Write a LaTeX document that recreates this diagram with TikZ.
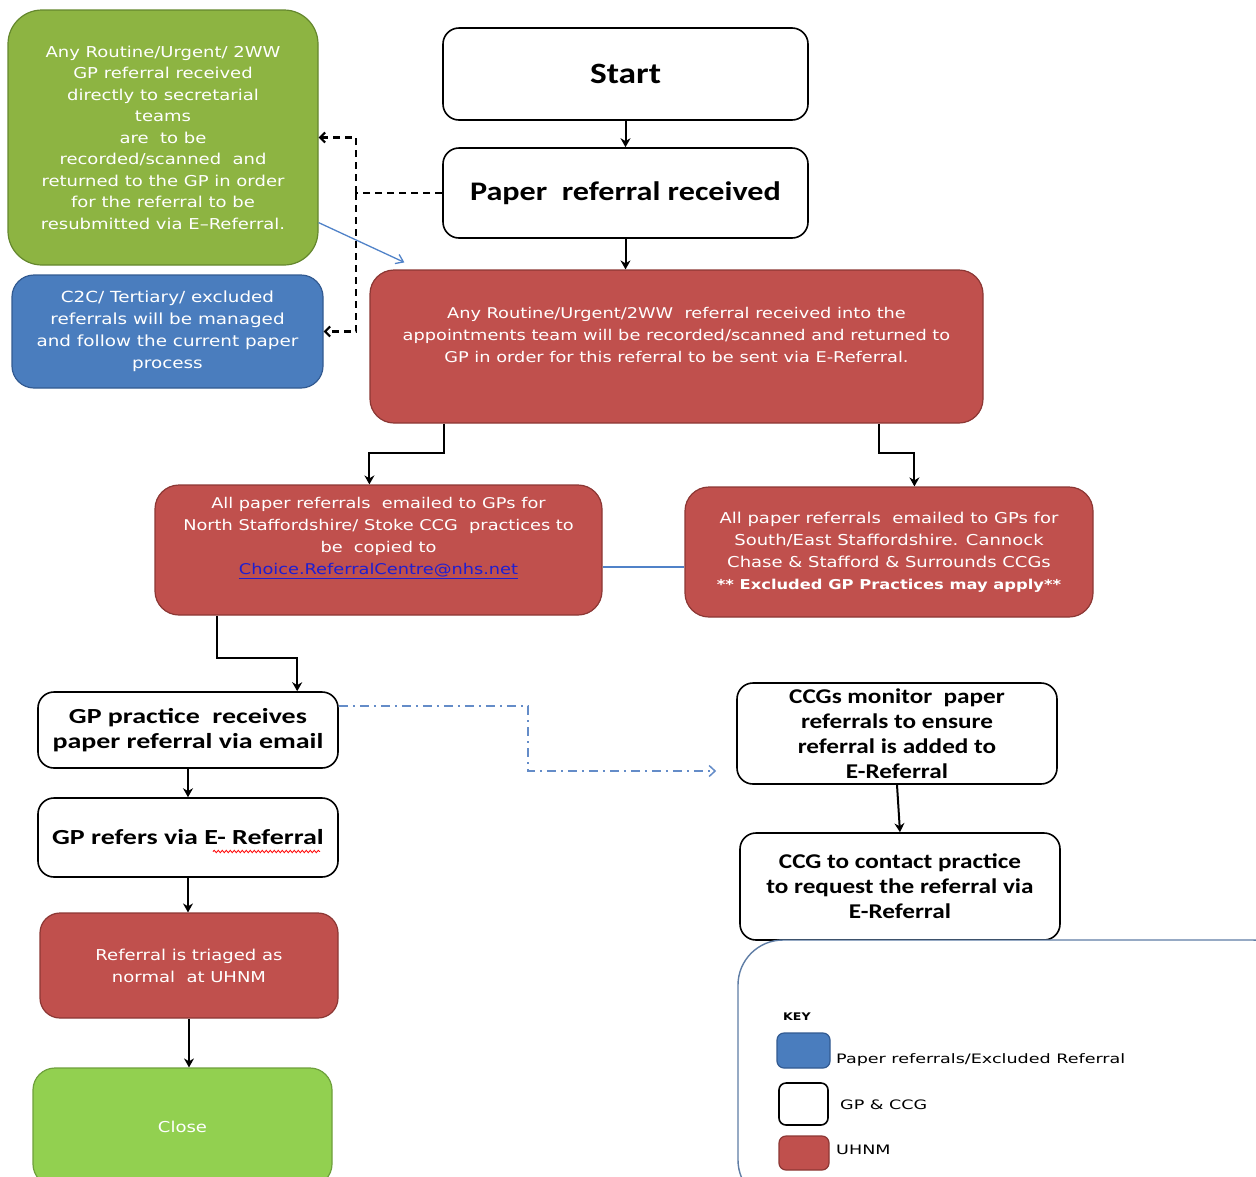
\documentclass[tikz,border=0pt]{standalone}
\usepackage{fontspec}
\setmainfont[FakeStretch=1.2]{DejaVu Sans}
\newfontfamily\widefont[FakeStretch=1.35]{DejaVu Sans}
\newfontfamily\cb[FakeStretch=1.2]{Carlito}
\newfontfamily\cbw[FakeStretch=1.3]{Carlito}
\usetikzlibrary{arrows.meta,calc,decorations.pathmorphing}
\definecolor{gfill}{RGB}{141,180,66}
\definecolor{gedge}{RGB}{100,135,45}
\definecolor{bfill}{RGB}{74,125,190}
\definecolor{bedge}{RGB}{50,90,145}
\definecolor{rfill}{RGB}{192,80,77}
\definecolor{redge}{RGB}{140,55,52}
\definecolor{cfill}{RGB}{146,208,80}
\definecolor{cedge}{RGB}{110,160,60}
\definecolor{linkblue}{RGB}{30,30,210}
\definecolor{thinblue}{RGB}{80,130,200}
\definecolor{keyedge}{RGB}{95,125,165}
\definecolor{ddblue}{RGB}{100,140,200}
\begin{document}
\begin{tikzpicture}[x=1pt,y=-1pt,
  every node/.style={inner sep=0pt, align=center},
  wbox/.style={draw=black, line width=1.6pt, fill=white, rounded corners=16pt,
    font=\cb\bfseries\fontsize{21}{25}\selectfont},
  wboxl/.style={wbox, font=\cbw\bfseries\fontsize{21.5}{25}\selectfont},
  rbox/.style={draw=redge, line width=1.2pt, fill=rfill, rounded corners=24pt,
    text=white, font=\fontsize{15}{22}\selectfont},
  gbox/.style={draw=gedge, line width=1.2pt, fill=gfill, rounded corners=34pt,
    text=white, font=\fontsize{15}{21.5}\selectfont},
  bbox/.style={draw=bedge, line width=1.2pt, fill=bfill, rounded corners=22pt,
    text=white, font=\fontsize{15.3}{22}\selectfont},
  cbox/.style={draw=cedge, line width=1.2pt, fill=cfill, rounded corners=22pt,
    text=white, font=\fontsize{15}{22}\selectfont},
  wtext/.style={text=white, font=\fontsize{14.8}{22}\selectfont},
  keybox/.style={draw=keyedge, line width=1.4pt, fill=white, rounded corners=45pt},
  swatch/.style={rounded corners=7pt, line width=1.2pt},
  ktext/.style={anchor=west, font=\widefont\fontsize{13}{14}\selectfont},
  arr/.style={draw=black, line width=2pt, -{Stealth[length=9pt,width=10pt]}},
  dashline/.style={draw=black, line width=2.2pt, dash pattern=on 7pt off 5pt},
  dasharr/.style={dashline, -{Straight Barb[length=5pt,width=10pt]}},
  thinarr/.style={draw=thinblue, line width=1.3pt, -{Straight Barb[length=7pt,width=10pt]}},
  ddarr/.style={draw=ddblue, line width=1.5pt, dash pattern=on 9pt off 5pt on 2pt off 5pt,
    -{Straight Barb[length=6pt,width=11pt]}}
]
\useasboundingbox (0,0) rectangle (1256,1176);
\clip (0,0) rectangle (1256,1176);

% left side boxes
\node[gbox, minimum width=310pt, minimum height=255pt] (g1) at (163,137.5)
  {Any Routine/Urgent/ 2WW\\GP referral received\\directly to secretarial\\teams\\are~ to be\\recorded/scanned~ and\\returned to the GP in order\\for the referral to be\\resubmitted via E–Referral.};
\node[bbox, minimum width=311pt, minimum height=113pt] (b1) at (167.5,331.5)
  {C2C/ Tertiary/ excluded\\referrals will be managed\\and follow the current paper\\process};

% top column
\node[wbox, minimum width=365pt, minimum height=92pt, font=\cb\bfseries\fontsize{29.5}{32}\selectfont] (start) at (625.5,74) {Start};
\node[wbox, minimum width=365pt, minimum height=90pt, font=\cb\bfseries\fontsize{26.8}{30}\selectfont] (paper) at (625.5,193) {Paper~ referral received};

\node[rbox, minimum width=613pt, minimum height=153pt] (r1) at (676.5,346.5) {};
\node[wtext] (r1t) at (676.5,335)
  {Any Routine/Urgent/2WW~ referral received into the\\appointments team will be recorded/scanned and returned to\\GP in order for this referral to be sent via E-Referral.};

\node[rbox, minimum width=447pt, minimum height=130pt] (r2) at (378.5,550) {};
\node[wtext] (r2t) at (378.5,538)
  {All paper referrals~ emailed to GPs for\\North Staffordshire/ Stoke CCG~ practices to\\be~ copied to\\{\color{linkblue}\underline{Choice.ReferralCentre@nhs.net}}};

\node[rbox, minimum width=408pt, minimum height=130pt] (r3) at (889,552)
  {All paper referrals~ emailed to GPs for\\South/East Staffordshire. Cannock\\Chase \& Stafford \& Surrounds CCGs\\\bfseries\fontsize{13.6}{22}\selectfont ** Excluded GP Practices may apply**};

% lower left column
\node[wboxl, minimum width=300pt, minimum height=76pt] (w1) at (188,730)
  {GP practice~ receives\\paper referral via email};
\node[wboxl, minimum width=300pt, minimum height=79pt] (w2) at (188,837.5)
  {GP refers via E- Referral};
\node[rbox, minimum width=298pt, minimum height=105pt, rounded corners=20pt] (r4) at (189,965.5)
  {Referral is triaged as\\normal~ at UHNM};
\node[cbox, minimum width=299pt, minimum height=118pt] (close) at (182.5,1127) {Close};

% lower right column
\node[wbox, minimum width=320pt, minimum height=101pt] (w3) at (897,733.5)
  {CCGs monitor~ paper\\referrals to ensure\\referral is added to\\E-Referral};
\node[wbox, minimum width=320pt, minimum height=107pt] (w4) at (900,886.5)
  {CCG to contact practice\\to request the referral via\\E-Referral};

% key
\node[keybox, minimum width=560pt, minimum height=265pt] (key) at (1018,1072.5) {};
\node[font=\bfseries\fontsize{10.5}{12}\selectfont, anchor=west] (keyt) at (783,1017) {KEY};
\node[swatch, fill=bfill, draw=bedge, minimum width=53pt, minimum height=35pt] (kb) at (803.5,1050.5) {};
\node[ktext] (kbt) at (836,1060) {Paper referrals/Excluded Referral};
\node[swatch, fill=white, draw=black, line width=1.6pt, minimum width=49pt, minimum height=42pt] (kw) at (803.5,1104) {};
\node[ktext] (kwt) at (840,1105) {GP \& CCG};
\node[swatch, fill=rfill, draw=redge, minimum width=50pt, minimum height=34pt] (kr) at (804,1153) {};
\node[ktext] (krt) at (836,1150) {UHNM};

% connectors
\draw[arr] (start.south) -- (paper.north);
\draw[arr] (paper.south) -- (paper.south |- r1.north);
\coordinate (j1) at ($(paper.west)+(-86,0)$);
\draw[dashline] (paper.west) -- (j1);
\draw[dasharr] (j1) |- (g1.east);
\draw[dasharr] (j1) |- (b1.east);
\coordinate (ga) at ($(g1.south east)+(0,-43)$);
\coordinate (gb) at ($(r1.north west)+(35,-7)$);
\draw[thinarr] (ga) -- (gb);

\draw[arr] ($(r1.south west)+(75,0)$) -- ++(0,29) -| ($(r2.north west)+(215,0)$);
\draw[arr] ($(r1.south east)+(-105,0)$) -- ++(0,29) -| ($(r3.north west)+(230,0)$);
\draw[draw=thinblue, line width=1.3pt] ($(r2.east)+(0,17)$) -- ($(r3.west)+(0,15)$);

\draw[arr] ($(r2.south west)+(63,0)$) -- ++(0,42) -| ($(w1.north west)+(260,0)$);
\draw[arr] (w1.south) -- (w2.north);
\draw[arr] (w2.south) -- (w2.south |- r4.north);
\draw[arr] (r4.south) -- (r4.south |- close.north);

\coordinate (dd) at ($(w3.west)+(-20,37.5)$);
\draw[ddarr] ($(w1.east)+(0,-24)$) -- ++(189,0) |- (dd);
\draw[arr] (w3.south) -- (w4.north);

% spelling underline
\draw[red, line width=0.8pt, decorate, decoration={snake, amplitude=1.2pt, segment length=4pt}]
  ($(w2.center)+(25,14)$) -- ++(107,0);
\end{tikzpicture}
\end{document}
